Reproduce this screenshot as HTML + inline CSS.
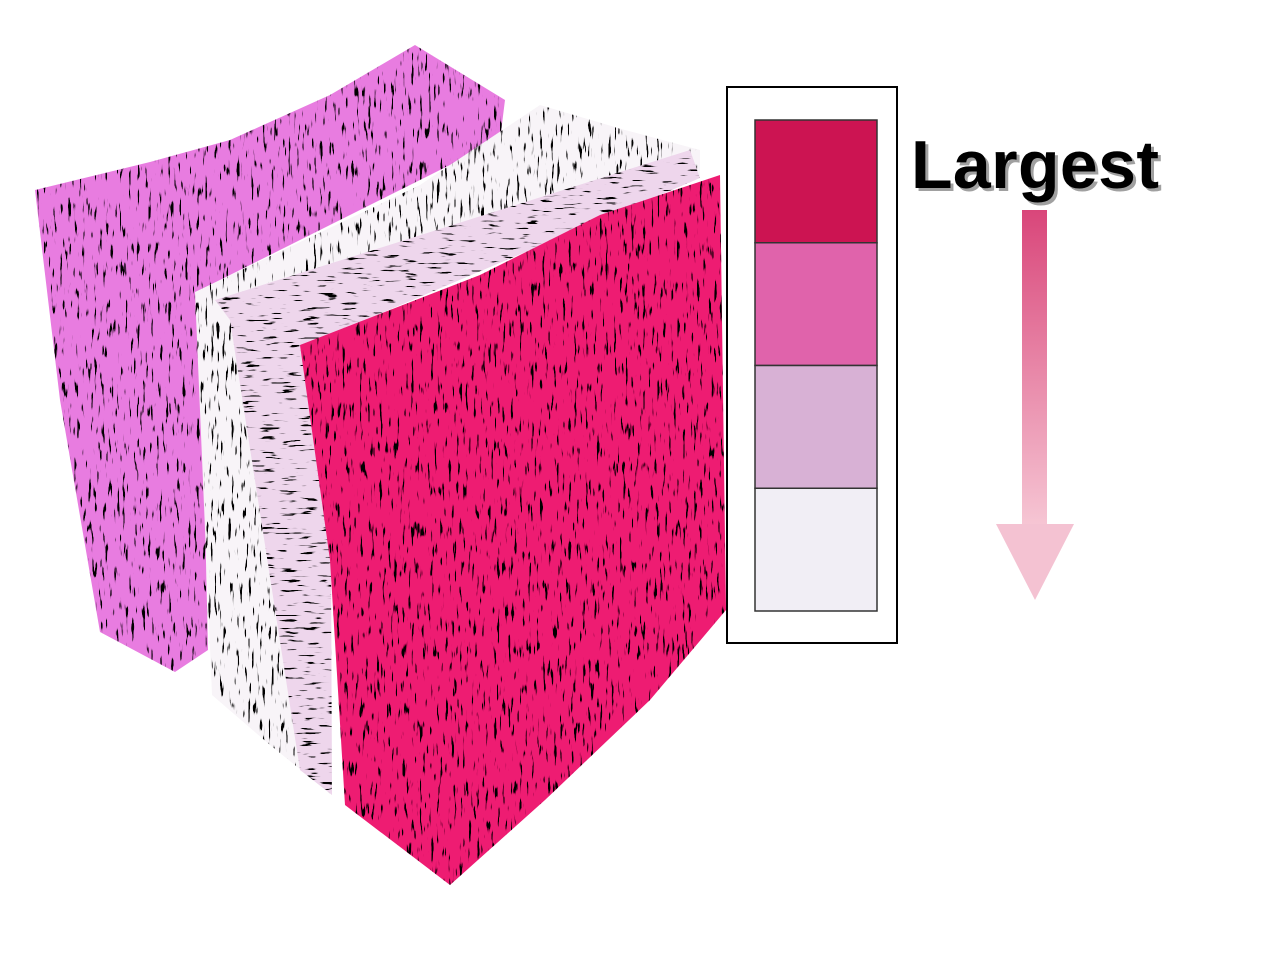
<!DOCTYPE html>
<html><head><meta charset="utf-8">
<style>
html,body{margin:0;padding:0;background:#fff;}
body{width:1277px;height:967px;overflow:hidden;position:relative;font-family:"Liberation Sans",sans-serif;}
</style></head>
<body>
<svg width="1277" height="967" viewBox="0 0 1277 967" xmlns="http://www.w3.org/2000/svg">
<defs>
<filter id="tex" x="0" y="0" width="100%" height="100%">
<feTurbulence type="fractalNoise" baseFrequency="0.35 0.05" numOctaves="2" seed="3" result="n"/>
<feColorMatrix in="n" type="matrix" values="0 0 0 0 0  0 0 0 0 0  0 0 0 0 0  0 0 0 -14 5.2" result="d"/>
<feComposite in="d" in2="SourceGraphic" operator="in" result="dd"/>
<feMerge><feMergeNode in="SourceGraphic"/><feMergeNode in="dd"/></feMerge>
</filter>
<filter id="tex2" x="0" y="0" width="100%" height="100%">
<feTurbulence type="fractalNoise" baseFrequency="0.05 0.4" numOctaves="2" seed="7" result="n"/>
<feColorMatrix in="n" type="matrix" values="0 0 0 0 0  0 0 0 0 0  0 0 0 0 0  0 0 0 -14 5.0" result="d"/>
<feComposite in="d" in2="SourceGraphic" operator="in" result="dd"/>
<feMerge><feMergeNode in="SourceGraphic"/><feMergeNode in="dd"/></feMerge>
</filter>
<linearGradient id="arrowGrad" x1="0" y1="0" x2="0" y2="1">
<stop offset="0" stop-color="#d9467a"/><stop offset="1" stop-color="#f6c6d4"/>
</linearGradient>
</defs>
<g>
<polygon filter="url(#tex)" fill="#e87ce0"
 points="35,190 150,162 230,140 330,95 415,45 505,100 500,140 200,290 208,650 175,672 100,632 60,400"/>
<polygon filter="url(#tex)" fill="#f8f4f8"
 points="195,292 420,185 540,105 625,130 700,150 700,178 330,332 332,795 270,745 212,695"/>
<polygon filter="url(#tex2)" fill="#eed6ec"
 points="215,300 690,150 700,178 330,335 332,795 300,770 230,320"/>
<polygon filter="url(#tex)" fill="#ee1a72"
 points="300,345 480,275 600,215 720,175 726,610 650,700 545,800 450,885 345,805 330,560"/>
</g>
<g>
<rect x="727" y="87" width="170" height="556" fill="#fff" stroke="#000" stroke-width="2"/>
<g id="swatches"></g>
</g>
<text x="914" y="191" textLength="248" font-family="Liberation Sans, sans-serif" font-weight="bold" font-size="68" fill="#a0a0a0">Largest</text>
<text x="911" y="188" textLength="248" font-family="Liberation Sans, sans-serif" font-weight="bold" font-size="68" fill="#000">Largest</text>
<g>
<rect x="1022" y="210" width="25" height="316" fill="url(#arrowGrad)"/>
<polygon points="996,524 1074,524 1035,600" fill="#f4c2d2"/>
</g>
</svg>
<script>
const categories = ["largest","large","small","smallest"];
const swatchColors = ["#cc1452","#e063ab","#d8b1d5","#f1eef5"];
const g = document.getElementById('swatches');
const ns = "http://www.w3.org/2000/svg";
const top0 = 120, bottom0 = 611, h = (bottom0 - top0) / categories.length;
categories.forEach((c, i) => {
  const r = document.createElementNS(ns, 'rect');
  r.setAttribute('x', 755); r.setAttribute('y', top0 + i * h);
  r.setAttribute('width', 122); r.setAttribute('height', h);
  r.setAttribute('fill', swatchColors[i]);
  r.setAttribute('stroke', '#333'); r.setAttribute('stroke-width', '1.5');
  
  
  g.appendChild(r);
});
</script>
</body></html>
